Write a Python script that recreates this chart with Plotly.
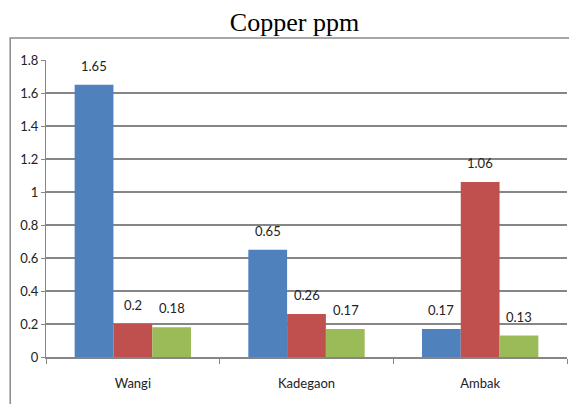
import plotly.graph_objects as go

categories = ["Wangi", "Kadegaon", "Ambak"]
series_names = ["Series 1", "Series 2", "Series 3"]
series1 = [1.65, 0.65, 0.17]
series2 = [0.2, 0.26, 1.06]
series3 = [0.18, 0.17, 0.13]
y_ticks = [0, 0.2, 0.4, 0.6, 0.8, 1, 1.2, 1.4, 1.6, 1.8]
y_tick_labels = ["0", "0.2", "0.4", "0.6", "0.8", "1", "1.2", "1.4", "1.6", "1.8"]
colors = ["#4F81BD", "#C0504D", "#9BBB59"]

font_fam = "Lato, sans-serif"

fig = go.Figure()
all_series = [series1, series2, series3]
for name, vals, col in zip(series_names, all_series, colors):
    fig.add_trace(go.Bar(x=categories, y=vals, name=name, marker_color=col,
                         marker_line_width=0))

bar_px = 39
annotations = []
for i, vals in enumerate(all_series):
    for c, v in zip(categories, vals):
        annotations.append(dict(x=c, y=v, text=f"{v:g}", showarrow=False,
                                xref="x", yref="y", xshift=(i - 1) * bar_px,
                                yanchor="bottom", yshift=9,
                                font=dict(family=font_fam, size=13, color="#222")))

# page is rendered with an 8px body offset; margins compensate
fig.update_layout(
    width=577, height=404,
    margin=dict(l=35, r=18, t=52, b=55),
    paper_bgcolor="white", plot_bgcolor="white",
    showlegend=False,
    barmode="group", bargap=0.33, bargroupgap=0,
    title=dict(text="Copper ppm", x=0.4965, xanchor="center", y=0.966, yanchor="middle",
               font=dict(family="Liberation Serif, Times New Roman, serif", size=26, color="#000")),
    annotations=annotations,
    font=dict(family=font_fam, size=13, color="#222"),
    xaxis=dict(showline=True, linecolor="#868686", linewidth=1.5,
               ticks="outside", tickson="boundaries", ticklen=5, tickcolor="#868686",
               showgrid=False, tickfont=dict(family=font_fam, size=13, color="#222"),
               ticklabelstandoff=14),
    yaxis=dict(range=[0, 1.8], tickvals=y_ticks, ticktext=y_tick_labels,
               showline=True, linecolor="#868686", linewidth=1,
               ticks="outside", ticklen=4, tickcolor="#868686",
               showgrid=True, gridcolor="#868686", gridwidth=1.5,
               zeroline=False,
               tickfont=dict(family=font_fam, size=13, color="#222")),
    shapes=[dict(type="rect", xref="paper", yref="paper",
                 x0=(7 - 43) / 524, x1=(600 - 43) / 524,
                 y0=(357 - 430) / 297, y1=(357 - 38) / 297,
                 line=dict(color="#8a8a8a", width=1.5), fillcolor="rgba(0,0,0,0)", layer="below")],
)

fig.write_html("out.html")
